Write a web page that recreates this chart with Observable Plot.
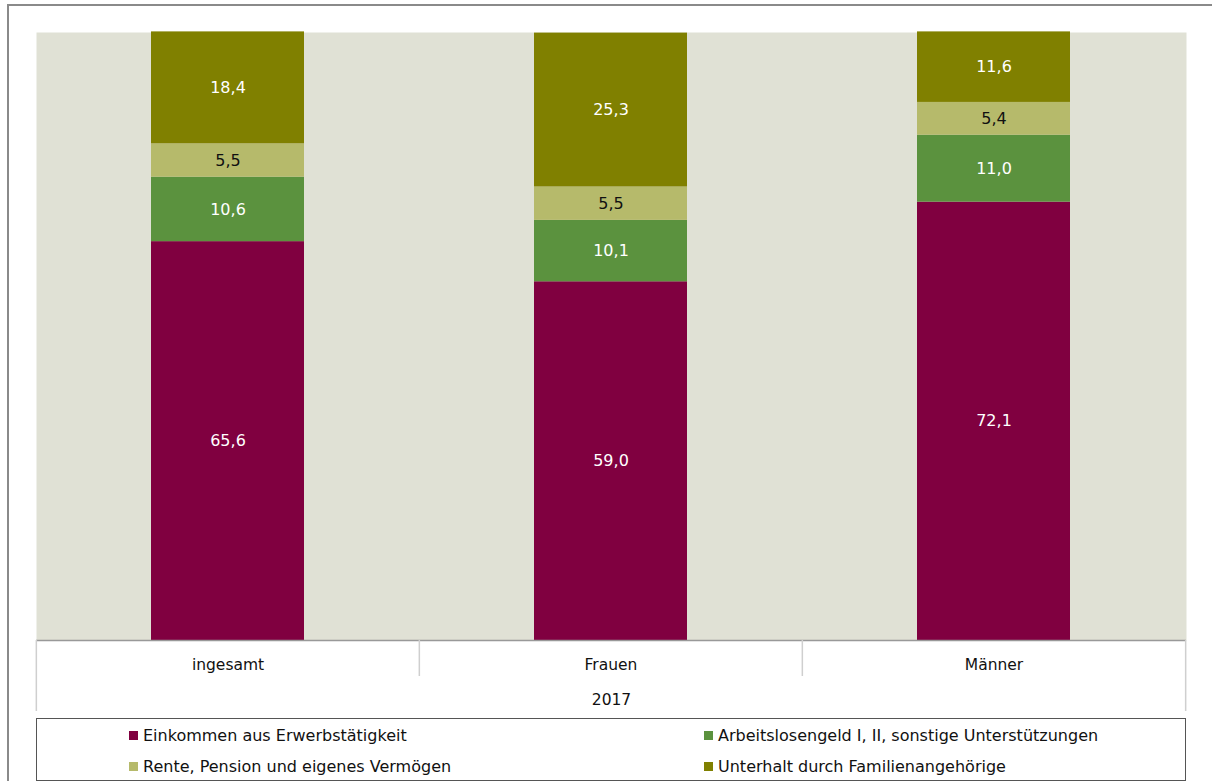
<!DOCTYPE html>
<html>
<head>
<meta charset="utf-8">
<script src="https://cdn.jsdelivr.net/npm/d3@7"></script>
<script src="https://cdn.jsdelivr.net/npm/@observablehq/plot@0.6"></script>
<style>
  html, body { margin: 0; padding: 0; background: #fff; }
  body { width: 1212px; height: 781px; overflow: hidden; position: relative; font-family: "DejaVu Sans", Verdana, sans-serif; }
  #outer { position: absolute; left: 7px; top: 4px; width: 1210px; height: 790px; border-left: 2px solid #8a8a8a; border-top: 2px solid #8a8a8a; box-sizing: border-box; }
  #chart { position: absolute; left: 0; top: 0; }
  #legend { position: absolute; left: 36px; top: 718px; width: 1150px; height: 63px; border: 1px solid #555; box-sizing: border-box; display: grid; grid-template-columns: 575px 575px; grid-auto-rows: 31px; font-size: 16px; color: #111; padding-top: 1px; }
  #legend .item { display: flex; align-items: center; padding-left: 92px; }
  #legend .sw { width: 9px; height: 9px; margin-right: 5px; flex: none; }
</style>
</head>
<body>
<div id="outer"></div>
<div id="chart"></div>
<div id="legend"></div>
<script>
const categories = ["ingesamt", "Frauen", "Männer"];
const series = [
  "Einkommen aus Erwerbstätigkeit",
  "Arbeitslosengeld I, II, sonstige Unterstützungen",
  "Rente, Pension und eigenes Vermögen",
  "Unterhalt durch Familienangehörige"
];
const colors = ["#800040", "#5b923e", "#b6ba6b", "#808000"];
const yearLabel = "2017";
const einkommen = [65.6, 59.0, 72.1];
const arbeitslosengeld = [10.6, 10.1, 11.0];
const rente = [5.5, 5.5, 5.4];
const unterhalt = [18.4, 25.3, 11.6];

const seriesValues = [einkommen, arbeitslosengeld, rente, unterhalt];
const data = [];
categories.forEach((c, i) => {
  series.forEach((s, j) => {
    data.push({category: c, series: s, value: seriesValues[j][i]});
  });
});

const W = 1212, H = 712;
const mL = 36, mR = 26, mT = 32, mB = 72;
const step = (W - mL - mR) / categories.length;
const fmt = v => v.toFixed(1).replace(".", ",");
const lightSeries = series[2];

const chart = Plot.plot({
  width: W,
  height: H,
  marginTop: mT,
  marginRight: mR,
  marginBottom: mB,
  marginLeft: mL,
  style: {fontFamily: "DejaVu Sans, Verdana, sans-serif", fontSize: "15px", background: "transparent", color: "#111"},
  x: {domain: categories, paddingInner: 0.6, paddingOuter: 0.3, label: null},
  y: {domain: [0, 100], axis: null},
  color: {domain: series, range: colors},
  marks: [
    Plot.frame({fill: "#e0e1d5", stroke: null}),
    Plot.barY(data, {x: "category", y: "value", fill: "series"}),
    Plot.text(data, Plot.stackY({
      x: "category", y: "value", z: "series",
      text: d => d.series !== lightSeries ? fmt(d.value) : "", fill: "white", fontSize: 16
    })),
    Plot.text(data, Plot.stackY({
      x: "category", y: "value", z: "series",
      text: d => d.series === lightSeries ? fmt(d.value) : "", fill: "#111", fontSize: 16
    })),
    Plot.ruleY([0], {stroke: "#999", strokeWidth: 1.5}),
    Plot.ruleX(categories.slice(1), {x: d => d, y1: 0, y2: 0, dx: -step / 2, insetBottom: -36, stroke: "#cfcfcf", strokeWidth: 1.5}),
    Plot.ruleX(categories.slice(0, 1), {x: d => d, y1: 0, y2: 0, dx: -step / 2, insetBottom: -71, stroke: "#cfcfcf", strokeWidth: 1.5}),
    Plot.ruleX(categories.slice(-1), {x: d => d, y1: 0, y2: 0, dx: step / 2, insetBottom: -71, stroke: "#cfcfcf", strokeWidth: 1.5}),
    Plot.axisX({tickSize: 0, tickPadding: 18, label: null, fontSize: 15.5}),
    Plot.text([yearLabel], {frameAnchor: "bottom", dy: 64, text: d => d, fontSize: 15.5, fill: "#111"})
  ]
});
document.getElementById("chart").appendChild(chart);

const legend = d3.select("#legend");
series.forEach((s, j) => {
  const item = legend.append("div").attr("class", "item");
  item.append("div").attr("class", "sw").style("background", colors[j]);
  item.append("span").text(s);
});
</script>
</body>
</html>
